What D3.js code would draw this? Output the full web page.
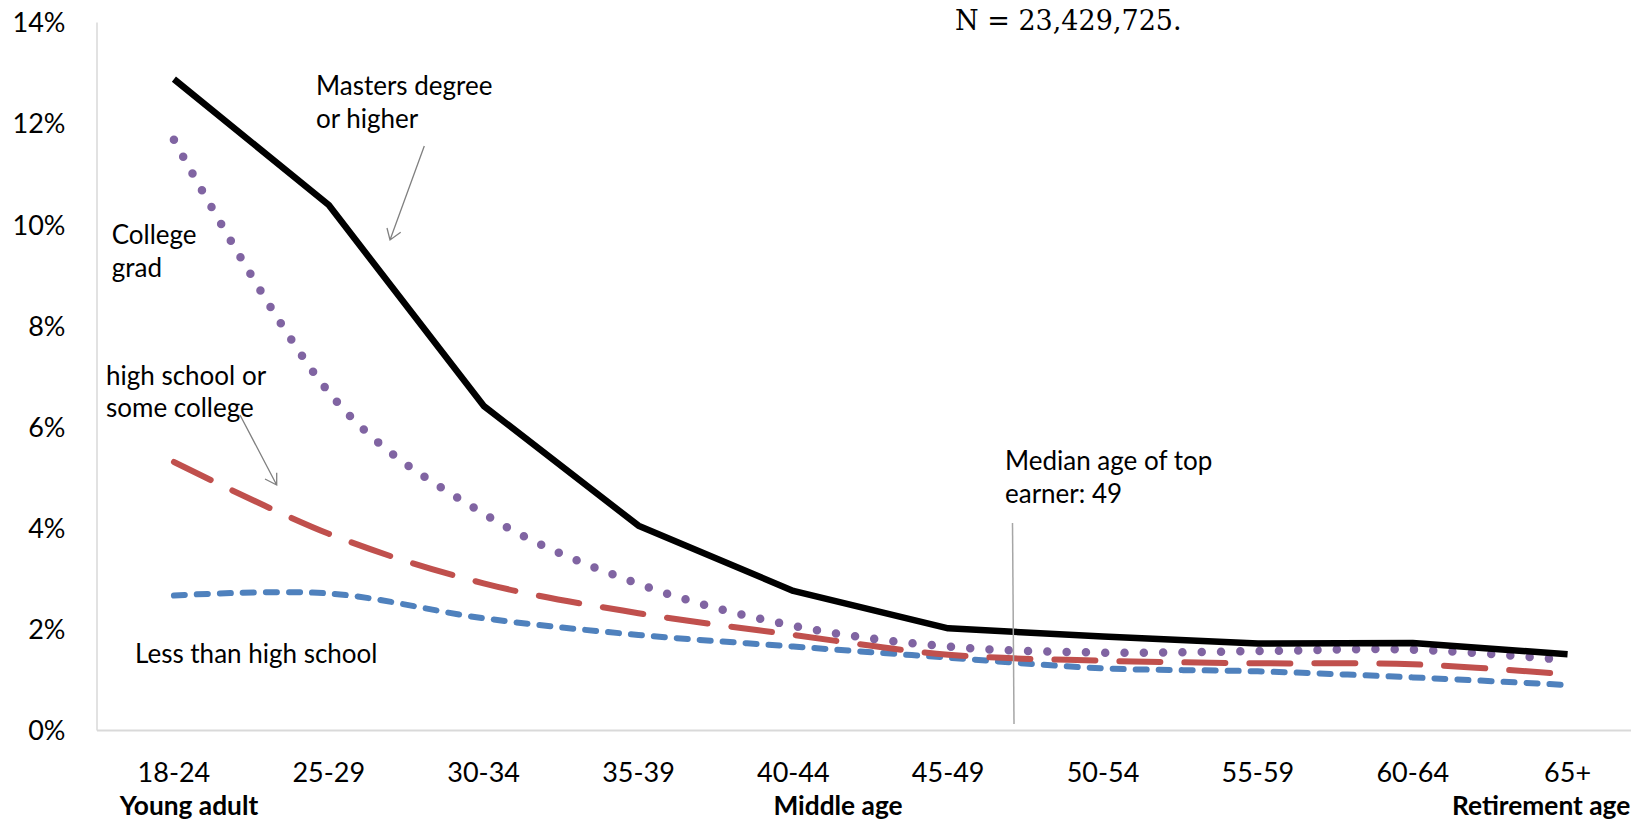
<!DOCTYPE html>
<html>
<head>
<meta charset="utf-8">
<script src="https://cdn.jsdelivr.net/npm/d3@7"></script>
<style>
  html, body { margin: 0; padding: 0; background: #fff; }
  svg { display: block; }
  text { font-family: Lato, "Open Sans", sans-serif; fill: #000; }
  text.serif { font-family: "DejaVu Serif", "Liberation Serif", serif; font-variant-numeric: oldstyle-nums; }
</style>
</head>
<body>
<svg id="chart" width="1631" height="822"></svg>
<script>
// ---- data ----
const categories = ["18-24", "25-29", "30-34", "35-39", "40-44", "45-49", "50-54", "55-59", "60-64", "65+"];
const mastersOrHigher = [12.87, 10.38, 6.41, 4.04, 2.75, 2.01, 1.85, 1.71, 1.72, 1.50];
const collegeGrad     = [11.67, 6.68, 4.28, 2.89, 2.06, 1.65, 1.53, 1.56, 1.59, 1.38];
const highSchoolSome  = [5.30, 3.88, 2.90, 2.31, 1.88, 1.49, 1.37, 1.32, 1.30, 1.10];
const lessThanHS      = [2.66, 2.70, 2.21, 1.88, 1.65, 1.43, 1.22, 1.16, 1.04, 0.89];
const yTicks = [0, 2, 4, 6, 8, 10, 12, 14];
const groupLabels = ["Young adult", "Middle age", "Retirement age"];
const noteN = "N = 23,429,725.";

// ---- layout ----
const svg = d3.select("#chart");
const plotLeft = 96.5, step = 154.85;
const x = d3.scaleBand().domain(categories).range([plotLeft, plotLeft + step * categories.length]).padding(0);
const cx = c => x(c) + x.bandwidth() / 2;
const y = d3.scaleLinear().domain([0, 14]).range([730, 22]);

// axes
const yAxis = svg.append("g").attr("transform", `translate(${plotLeft},0)`)
  .call(d3.axisLeft(y).tickValues(yTicks).tickFormat(d => d + "%").tickSize(0).tickPadding(31));
yAxis.select(".domain").attr("stroke", "#d9d9d9").attr("stroke-width", 1.5);
yAxis.selectAll("text").style("font-family", "Lato").attr("font-size", 27).attr("fill", "#000").attr("dy", "0.36em");

const xAxis = svg.append("g").attr("transform", `translate(0,730)`)
  .call(d3.axisBottom(x).tickSize(0).tickPadding(0));
xAxis.select(".domain").attr("stroke", "#d9d9d9").attr("stroke-width", 2);
xAxis.selectAll("text").style("font-family", "Lato").attr("font-size", 27).attr("fill", "#000").attr("dy", null).attr("y", 52);

// group labels (second row)
const gl = svg.append("g").attr("font-weight", "bold").attr("font-size", 26.3);
gl.append("text").attr("x", 189).attr("y", 815).attr("text-anchor", "middle").text(groupLabels[0]);
gl.append("text").attr("x", 838).attr("y", 815).attr("text-anchor", "middle").text(groupLabels[1]);
gl.append("text").attr("x", 1452).attr("y", 815).attr("text-anchor", "start").text(groupLabels[2]);

// series
const pts = arr => categories.map((c, i) => [cx(c), y(arr[i])]);
const lineLin = d3.line();
const lineSmooth = d3.line().curve(d3.curveCatmullRom.alpha(0));

svg.append("path").attr("d", lineSmooth(pts(lessThanHS))).attr("fill", "none")
  .attr("stroke", "#4F81BD").attr("stroke-width", 6).attr("stroke-linecap", "round").attr("stroke-dasharray", "11 12");
svg.append("path").attr("d", lineSmooth(pts(highSchoolSome))).attr("fill", "none")
  .attr("stroke", "#C0504D").attr("stroke-width", 6).attr("stroke-linecap", "round").attr("stroke-dasharray", "41 24");
svg.append("path").attr("d", lineSmooth(pts(collegeGrad))).attr("fill", "none")
  .attr("stroke", "#8064A2").attr("stroke-width", 8.5).attr("stroke-linecap", "round").attr("stroke-dasharray", "0 19.3");
svg.append("path").attr("d", lineLin(pts(mastersOrHigher))).attr("fill", "none")
  .attr("stroke", "#000").attr("stroke-width", 6.5).attr("stroke-linejoin", "round");

// median marker line
svg.append("line").attr("x1", 1012.5).attr("y1", 523).attr("x2", 1014).attr("y2", 724)
  .attr("stroke", "#a6a6a6").attr("stroke-width", 1.5);

// annotations
const ann = svg.append("g").attr("font-size", 26);
function multi(xp, yp, lines, lh) {
  const t = ann.append("text").attr("x", xp).attr("y", yp);
  lines.forEach((l, i) => t.append("tspan").attr("x", xp).attr("dy", i === 0 ? 0 : lh).text(l));
}
multi(316, 95, ["Masters degree", "or higher"], 32.5);
multi(111.7, 244, ["College", "grad"], 32.7);
multi(106, 385, ["high school or", "some college"], 32);
multi(135, 663, ["Less than high school"], 0);
multi(1005, 470, ["Median age of top", "earner: 49"], 32.7);

// arrows
const arrows = svg.append("g").attr("stroke", "#808080").attr("stroke-width", 1.3).attr("fill", "none");
arrows.append("path").attr("d", "M424.3,146 L390,240 M387,228 L390,240 L400.7,232.3");
arrows.append("path").attr("d", "M240,415 L276.7,485 M265,479 L276.7,485 L276.7,472.7");

// N note
svg.append("text").attr("class", "serif").attr("x", 955).attr("y", 30).attr("font-size", 27).text(noteN);
</script>
</body>
</html>
